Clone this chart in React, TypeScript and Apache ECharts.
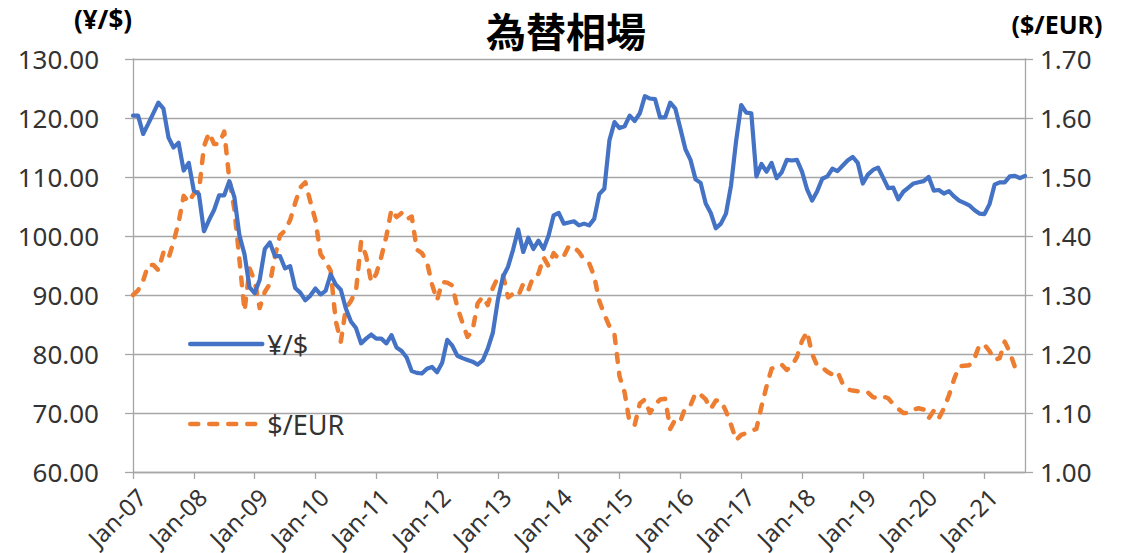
import React, { useEffect, useRef } from "react";
import * as echarts from "echarts";

const MONTHS = ["Jan", "Feb", "Mar", "Apr", "May", "Jun", "Jul", "Aug", "Sep", "Oct", "Nov", "Dec"];
const YEARS = ["07", "08", "09", "10", "11", "12", "13", "14", "15", "16", "17", "18", "19", "20", "21"];

// Monthly values, Jan-07 .. Sep-21
const yenPerDollar = [
  120.4, 120.4, 117.3, 119.0, 120.8, 122.6, 121.6, 116.7, 115.0, 115.8, 111.1, 112.4,
  107.7, 107.1, 100.8, 102.7, 104.4, 106.9, 106.9, 109.3, 106.6, 100.1, 96.9, 91.3,
  90.3, 92.6, 97.8, 98.9, 96.6, 96.6, 94.5, 94.9, 91.2, 90.4, 89.1, 89.9,
  91.1, 90.1, 90.7, 93.5, 91.8, 90.9, 87.7, 85.5, 84.4, 81.8, 82.6, 83.3,
  82.6, 82.6, 81.8, 83.2, 81.1, 80.5, 79.4, 77.1, 76.8, 76.7, 77.5, 77.8,
  76.9, 78.5, 82.4, 81.4, 79.7, 79.3, 79.0, 78.7, 78.2, 78.9, 80.9, 83.6,
  89.2, 93.1, 94.8, 97.7, 101.1, 97.3, 99.7, 97.8, 99.2, 97.8, 100.1, 103.5,
  103.9, 102.1, 102.3, 102.5, 101.8, 102.1, 101.8, 102.9, 107.1, 108.0, 116.2, 119.3,
  118.3, 118.6, 120.4, 119.5, 120.8, 123.7, 123.3, 123.2, 120.1, 120.1, 122.6, 121.6,
  118.2, 114.7, 112.9, 109.6, 109.0, 105.5, 103.9, 101.3, 102.1, 103.8, 108.6, 116.1,
  122.2, 120.9, 120.8, 110.1, 112.2, 110.9, 112.4, 109.8, 110.8, 112.9, 112.8, 112.9,
  110.9, 107.9, 106.0, 107.6, 109.7, 110.1, 111.4, 111.0, 111.9, 112.8, 113.4, 112.4,
  108.9, 110.4, 111.2, 111.6, 109.9, 108.1, 108.2, 106.2, 107.5, 108.2, 108.9, 109.1,
  109.3, 110.0, 107.7, 107.8, 107.2, 107.6, 106.7, 106.0, 105.6, 105.2, 104.4, 103.8,
  103.7, 105.4, 108.7, 109.1, 109.1, 110.1, 110.2, 109.8, 110.2,
];

// Monthly values, Jan-07 .. Jul-21
const dollarPerEuro = [
  1.300, 1.308, 1.324, 1.351, 1.351, 1.342, 1.372, 1.362, 1.390, 1.423, 1.468, 1.457,
  1.472, 1.475, 1.552, 1.575, 1.556, 1.556, 1.577, 1.497, 1.445, 1.360, 1.273, 1.345,
  1.324, 1.278, 1.305, 1.319, 1.365, 1.401, 1.409, 1.427, 1.456, 1.482, 1.491, 1.458,
  1.427, 1.369, 1.357, 1.341, 1.256, 1.221, 1.277, 1.290, 1.307, 1.390, 1.366, 1.322,
  1.336, 1.365, 1.400, 1.445, 1.432, 1.439, 1.428, 1.433, 1.377, 1.371, 1.356, 1.318,
  1.291, 1.322, 1.321, 1.316, 1.279, 1.253, 1.229, 1.240, 1.286, 1.297, 1.283, 1.312,
  1.330, 1.334, 1.296, 1.302, 1.298, 1.319, 1.308, 1.332, 1.336, 1.364, 1.349, 1.371,
  1.361, 1.366, 1.383, 1.381, 1.373, 1.360, 1.354, 1.332, 1.290, 1.267, 1.247, 1.233,
  1.162, 1.135, 1.083, 1.080, 1.116, 1.123, 1.100, 1.114, 1.123, 1.124, 1.073, 1.089,
  1.086, 1.110, 1.113, 1.134, 1.131, 1.123, 1.107, 1.121, 1.121, 1.103, 1.080, 1.054,
  1.063, 1.066, 1.070, 1.073, 1.111, 1.145, 1.175, 1.180, 1.182, 1.173, 1.180, 1.195,
  1.222, 1.238, 1.200, 1.180, 1.177, 1.170, 1.165, 1.170, 1.150, 1.140, 1.138, 1.137,
  1.136, 1.135, 1.127, 1.125, 1.128, 1.125, 1.115, 1.107, 1.100, 1.100, 1.106, 1.108,
  1.106, 1.091, 1.104, 1.091, 1.108, 1.130, 1.157, 1.179, 1.180, 1.181, 1.192, 1.215,
  1.216, 1.205, 1.190, 1.193, 1.221, 1.203, 1.178,
];

const categories: string[] = [];
YEARS.forEach((y) => MONTHS.forEach((m) => categories.push(`${m}-${y}`)));
categories.length = yenPerDollar.length;

const CJK = "'Noto Sans CJK JP', 'Noto Sans', sans-serif";
const LATIN = "'Noto Sans', 'Noto Sans CJK JP', sans-serif";
const GRID_COLOR = "#A6A6A6";
const TEXT_COLOR = "#333333";

export default function App() {
  const ref = useRef<HTMLDivElement>(null);

  useEffect(() => {
    if (!ref.current) return;
    const chart = echarts.init(ref.current, undefined, { renderer: "svg" });
    chart.setOption({
      animation: false,
      textStyle: { fontFamily: LATIN },
      title: {
        text: "為替相場",
        left: "center",
        top: 8,
        padding: 0,
        textStyle: { fontSize: 40, lineHeight: 44, fontWeight: "bold", color: "#000", fontFamily: CJK },
      },
      grid: { left: 133, right: 107, top: 59, bottom: 81 },
      legend: {
        orient: "vertical",
        left: 188,
        top: 327,
        padding: 0,
        itemWidth: 72,
        itemHeight: 14,
        itemGap: 46,
        data: ["¥/$", "$/EUR"],
        itemStyle: { opacity: 0, borderWidth: 0 },
        lineStyle: { width: 4.5, cap: "round" },
        textStyle: { fontSize: 27, color: TEXT_COLOR, fontFamily: LATIN, lineHeight: 34 },
      },
      xAxis: {
        type: "category",
        data: categories,
        boundaryGap: false,
        axisLine: { lineStyle: { color: GRID_COLOR, width: 1.3 } },
        axisTick: { interval: 11, length: 7, lineStyle: { color: GRID_COLOR, width: 1.3 } },
        axisLabel: {
          interval: 11,
          rotate: 45,
          fontSize: 24,
          color: TEXT_COLOR,
          fontFamily: LATIN,
          margin: 12,
          verticalAlign: "top",
        },
        splitLine: { show: false },
      },
      yAxis: [
        {
          type: "value",
          min: 60,
          max: 130,
          interval: 10,
          name: "(¥/$)",
          nameLocation: "end",
          nameGap: 27,
          nameTextStyle: {
            fontSize: 26,
            fontWeight: "bold",
            color: "#000",
            fontFamily: LATIN,
            align: "center",
            padding: [0, 60, 0, 0],
          },
          axisLine: { show: true, lineStyle: { color: GRID_COLOR, width: 1.3 } },
          axisTick: { show: true, length: 8, lineStyle: { color: GRID_COLOR, width: 1.3 } },
          axisLabel: {
            formatter: (v: number) => v.toFixed(2),
            fontSize: 26,
            color: TEXT_COLOR,
            fontFamily: LATIN,
            margin: 34,
          },
          splitLine: { lineStyle: { color: GRID_COLOR, width: 1.3 } },
        },
        {
          type: "value",
          min: 1.0,
          max: 1.7,
          interval: 0.1,
          position: "right",
          name: "($/EUR)",
          nameLocation: "end",
          nameGap: 23,
          nameTextStyle: {
            fontSize: 25,
            fontWeight: "bold",
            color: "#000",
            fontFamily: LATIN,
            align: "center",
            padding: [0, 0, 0, 64],
          },
          axisLine: { show: true, lineStyle: { color: GRID_COLOR, width: 1.3 } },
          axisTick: { show: true, length: 8, lineStyle: { color: GRID_COLOR, width: 1.3 } },
          axisLabel: {
            formatter: (v: number) => v.toFixed(2),
            fontSize: 26,
            color: TEXT_COLOR,
            fontFamily: LATIN,
            margin: 15,
          },
          splitLine: { show: false },
        },
      ],
      series: [
        {
          name: "¥/$",
          type: "line",
          yAxisIndex: 0,
          data: yenPerDollar,
          symbol: "none",
          showSymbol: false,
          lineStyle: { color: "#4472C4", width: 4.2, cap: "round", join: "round" },
          itemStyle: { color: "#4472C4" },
          z: 3,
        },
        {
          name: "$/EUR",
          type: "line",
          yAxisIndex: 1,
          data: dollarPerEuro,
          symbol: "none",
          showSymbol: false,
          lineStyle: { color: "#ED7D31", width: 4.5, type: [8, 11], cap: "round", join: "round" },
          itemStyle: { color: "#ED7D31" },
          z: 2,
        },
      ],
    });
    return () => chart.dispose();
  }, []);

  return (
    <div
      ref={ref}
      style={{ position: "fixed", left: 0, top: 0, width: 1132, height: 553, background: "#fff" }}
    />
  );
}
